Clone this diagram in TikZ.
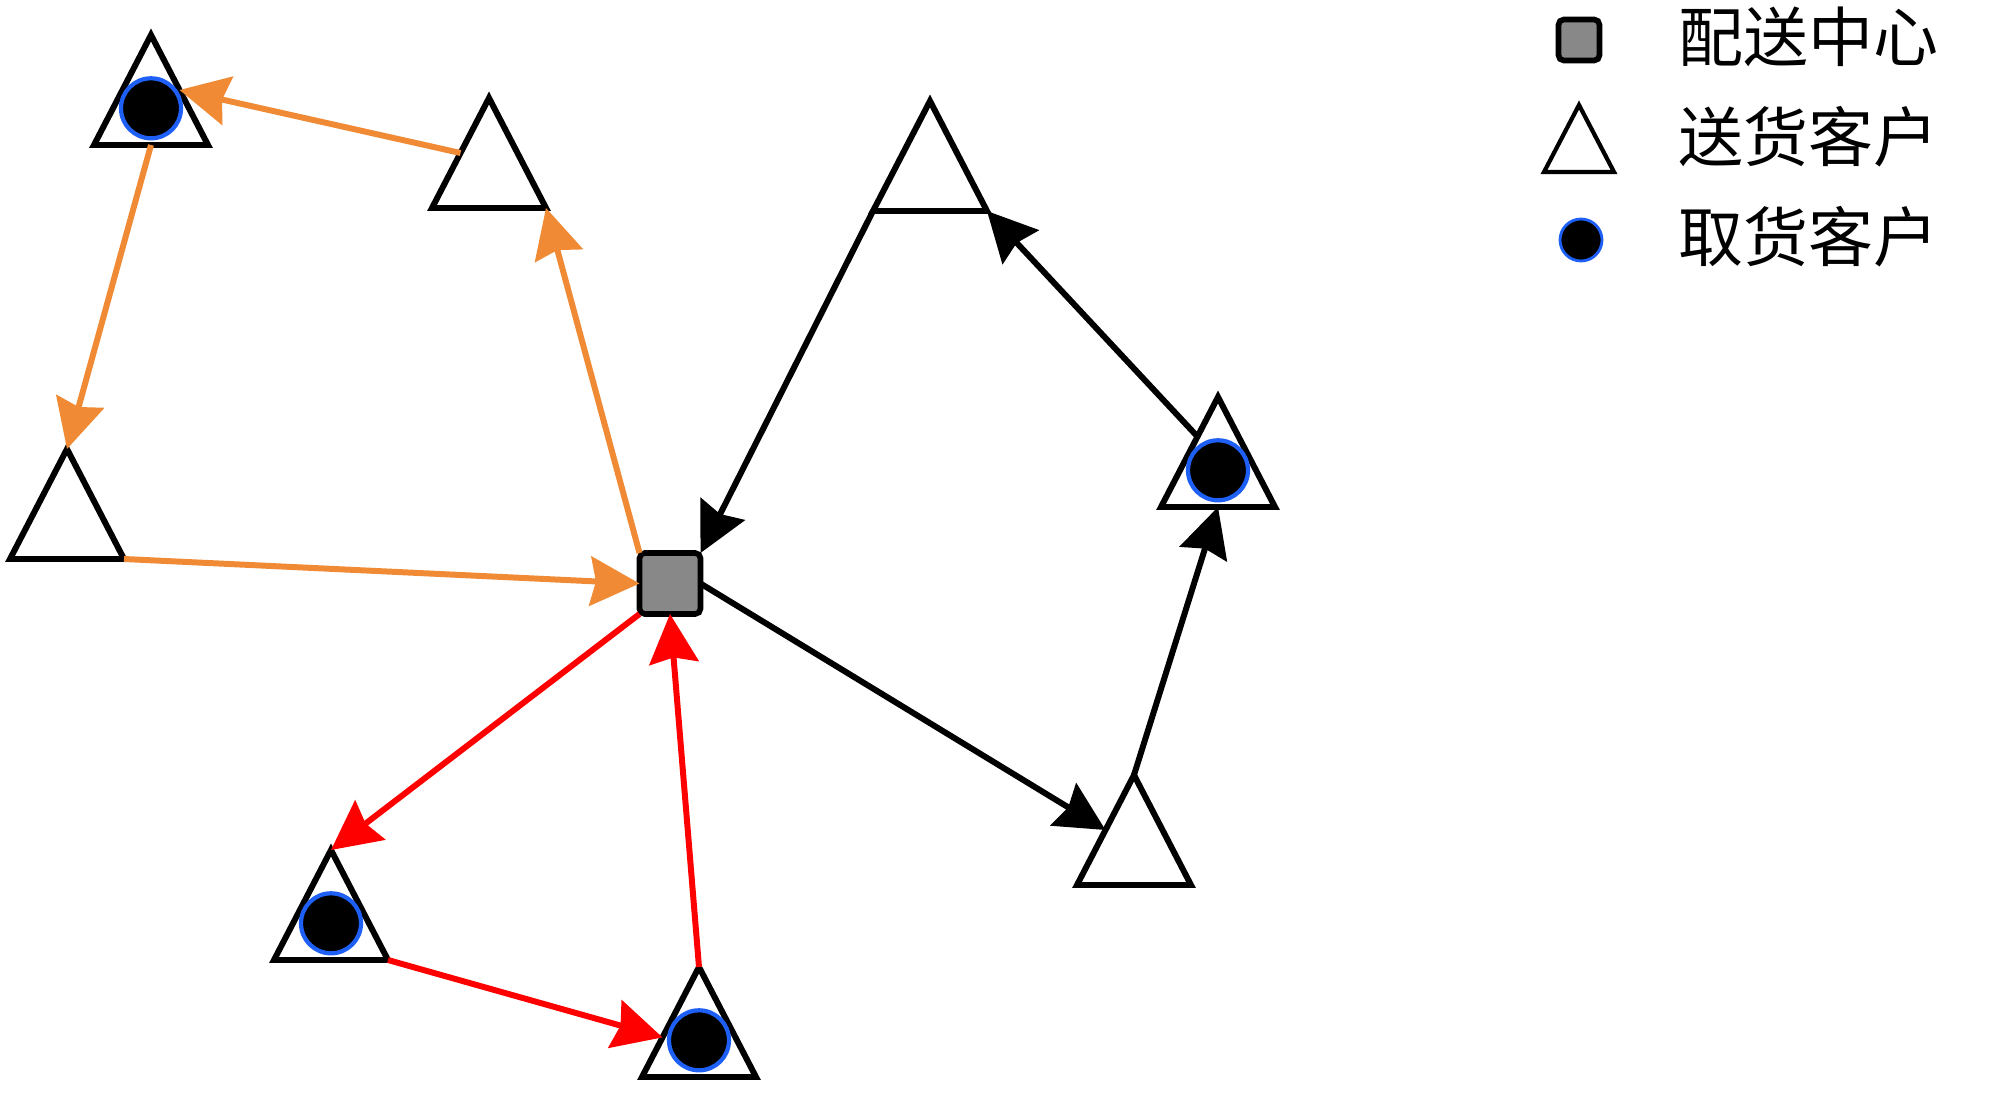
\documentclass[tikz,border=0pt]{standalone}
\usepackage{fontspec}
\newfontfamily\cjkfont{Noto Sans CJK SC}
\usetikzlibrary{arrows.meta,calc}
\definecolor{orng}{RGB}{240,138,52}
\definecolor{rd}{RGB}{255,0,0}
\definecolor{depotgray}{RGB}{136,136,136}
\definecolor{ringblue}{RGB}{30,95,245}
\tikzset{
  tri/.style={draw=black, line width=1.7pt, fill=white, line join=miter},
  dot/.style={fill=black, draw=ringblue, line width=1.2pt},
  depot/.style={rectangle, draw=black, fill=depotgray, line width=1.6pt,
    rounded corners=1.5pt, minimum size=0.61cm, inner sep=0pt, outer sep=0pt},
  arr/.style={line width=1.7pt, -{Stealth[length=14pt,width=14pt,inset=1.6pt]}},
  custsite/.pic={
    \coordinate (-b) at (0,0);
    \coordinate (-apex) at (0,1.10);
    \coordinate (-bl) at (-0.57,0);
    \coordinate (-br) at (0.57,0);
    \path[tri] (0,1.10) -- (-0.57,0) -- (0.57,0) -- cycle;
  },
  picksite/.pic={
    \coordinate (-b) at (0,0);
    \coordinate (-apex) at (0,1.10);
    \coordinate (-bl) at (-0.57,0);
    \coordinate (-br) at (0.57,0);
    \coordinate (-c) at (0,0.367);
    \path[tri] (0,1.10) -- (-0.57,0) -- (0.57,0) -- cycle;
    \path[dot] (0,0.367) circle (0.30);
  },
  legtext/.style={font=\cjkfont\fontsize{18.5pt}{22pt}\selectfont, inner sep=0pt, anchor=west},
}
\begin{document}
\begin{tikzpicture}
\useasboundingbox (0,0) rectangle (20,-10.94);
\fill[white] (0,0) rectangle (20,-10.94);

% sites
\pic (A) at (1.51,-1.45) {picksite};
\pic (B) at (4.89,-2.08) {custsite};
\pic (C) at (0.67,-5.59) {custsite};
\pic (F) at (9.30,-2.11) {custsite};
\pic (G) at (12.18,-5.07) {picksite};
\pic (H) at (11.34,-8.85) {custsite};
\pic (D) at (3.31,-9.60) {picksite};
\pic (E) at (6.99,-10.77) {picksite};

% depot
\node[depot] (O) at (6.70,-5.835) {};

% orange route
\draw[arr, orng] ($(B-apex)!0.5!(B-bl)$) -- ($(A-apex)!0.5!(A-br)$);
\draw[arr, orng] (A-b) -- (C-apex);
\draw[arr, orng] (C-br) -- (O.west);
\draw[arr, orng] (O.north west) -- (B-br);

% black route
\draw[arr] (F-bl) -- (O.north east);
\draw[arr] (O.east) -- ($(H-apex)!0.5!(H-bl)$);
\draw[arr] (H-apex) -- (G-b);
\draw[arr] ($(G-apex)!0.36!(G-bl)$) -- (F-br);

% red route
\draw[arr, rd] (O.south west) -- (D-apex);
\draw[arr, rd] (D-br) -- ($(E-apex)!0.64!(E-bl)$);
\draw[arr, rd] (E-apex) -- (O.south);

% legend
\node[depot, minimum size=0.41cm] (L1) at (15.79,-0.40) {};
\path[tri, line width=1.2pt] (15.79,-1.05) -- (15.44,-1.72) -- (16.14,-1.72) -- cycle;
\node[circle, fill=black, draw=ringblue, line width=0.8pt, minimum size=0.42cm, inner sep=0pt] (L3) at (15.81,-2.40) {};
\node[legtext] (T1) at (16.78,-0.37) {配送中心};
\node[legtext] (T2) at (16.78,-1.37) {送货客户};
\node[legtext] (T3) at (16.78,-2.37) {取货客户};
\end{tikzpicture}
\end{document}
